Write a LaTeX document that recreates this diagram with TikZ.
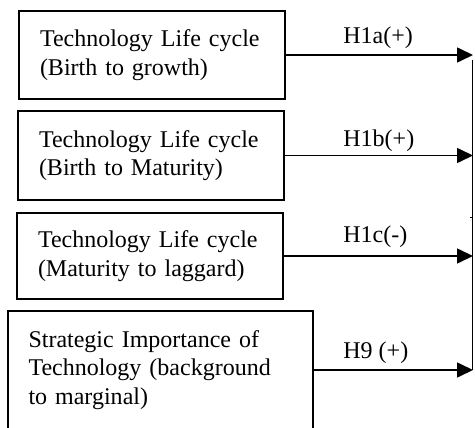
\documentclass[tikz,border=0pt]{standalone}
\usepackage{fontspec}
\setmainfont{Liberation Serif}
\usepackage{tikz}
\usetikzlibrary{arrows.meta,positioning,calc}

\begin{document}
\begin{tikzpicture}[x=0.5pt, y=-0.5pt,
  blocco/.style={rectangle, draw, line width=0.8pt, align=left, inner xsep=10.5pt,
    font=\fontsize{12}{14.2}\selectfont},
  ipotesi/.style={anchor=base west, inner sep=0pt, font=\fontsize{12}{14.2}\selectfont},
  freccia/.style={-{Triangle[length=8pt,width=7.5pt]}, line width=0.8pt}]
\clip (0,0) rectangle (475,427);
% blocchi a sinistra
\node[blocco, minimum width=133pt, minimum height=44pt, text width=112pt] (ciclo1) at (152,55) {Technology Life cycle\\(Birth to growth)};
\node[blocco, minimum width=133pt, minimum height=44.5pt, text width=112pt] (ciclo2) at (151,155.5) {Technology Life cycle\\(Birth to Maturity)};
\node[blocco, minimum width=133pt, minimum height=43pt, text width=112pt] (ciclo3) at (150,256) {Technology Life cycle\\(Maturity to laggard)};
\node[blocco, minimum width=152.5pt, minimum height=59pt, text width=132pt, inner xsep=10pt] (strategia) at (160.5,370) {Strategic Importance of\\Technology (background\\to marginal)};
% asse verticale
\coordinate (asse) at (473,0);
\coordinate (asse-alto) at (472,60);
\coordinate (asse-basso) at (472,370);
\coordinate (tacca) at (470,217);
\draw[line width=0.5pt] (asse-alto) -- (asse-basso);
\draw[line width=0.5pt] (tacca) -- ++(3,0);
% frecce
\draw[freccia] (ciclo1.east) -- (ciclo1.east -| asse);
\draw[freccia] (ciclo2.east) -- (ciclo2.east -| asse);
\draw[freccia] (ciclo3.east) -- (ciclo3.east -| asse);
\draw[freccia] (strategia.east) -- (strategia.east -| asse);
% etichette
\node[ipotesi] (h1a) at (343,44) {H1a(+)};
\node[ipotesi] (h1b) at (343,147) {H1b(+)};
\node[ipotesi] (h1c) at (343,242) {H1c(-)};
\node[ipotesi] (h9) at (343,358) {H9 (+)};
\end{tikzpicture}
\end{document}
